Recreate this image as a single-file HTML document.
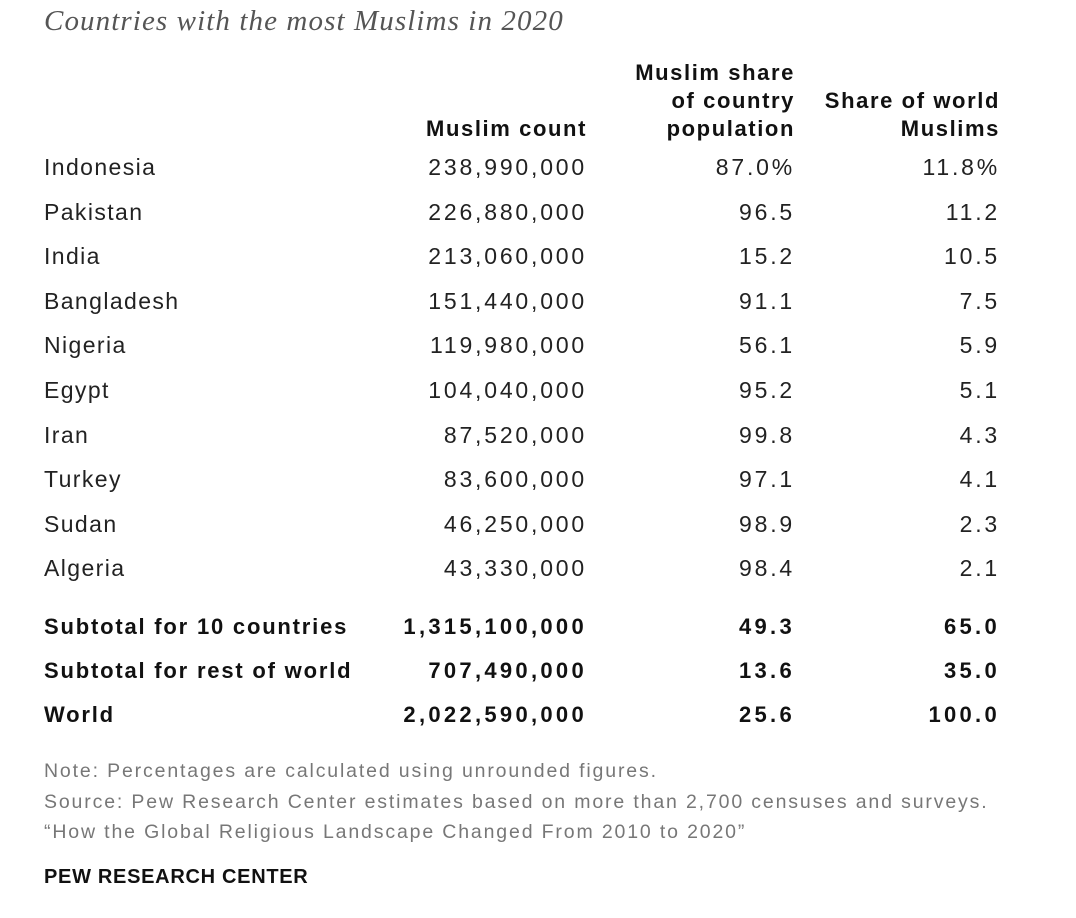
<!DOCTYPE html>
<html><head><style>
body{margin:0;width:1076px;height:918px;background:#fff;position:relative;overflow:hidden;font-family:"Liberation Sans",sans-serif;color:#222;}
.a{position:absolute;white-space:nowrap;line-height:30px;}
.t{left:44px;top:6px;font-family:"Liberation Serif",serif;font-style:italic;font-size:29px;letter-spacing:1.1px;color:#555;}
.h{font-weight:bold;font-size:22px;line-height:28px;text-align:right;color:#111;letter-spacing:1.6px;}
.r{font-size:23px;letter-spacing:1.4px;}
.r.num{letter-spacing:2.8px;}
.b{font-weight:bold;font-size:22px;letter-spacing:1.8px;color:#111;}
.b.num{letter-spacing:3.3px;}
.n{font-size:19.5px;color:#777;letter-spacing:1.85px;line-height:26px;}
.c1{left:44px}
.c2{right:489px;text-align:right}
.c3{right:281px;text-align:right}
.c4{right:76px;text-align:right}
</style></head><body>
<div class="a t">Countries with the most Muslims in 2020</div>
<div class="a h c2" style="top:115px">Muslim count</div>
<div class="a h c3" style="top:59px">Muslim share<br>of country<br>population</div>
<div class="a h c4" style="top:87px">Share of world<br>Muslims</div>
<div id="rows"></div>
<script>
const d=[["Indonesia","238,990,000","87.0%","11.8%"],["Pakistan","226,880,000","96.5","11.2"],["India","213,060,000","15.2","10.5"],["Bangladesh","151,440,000","91.1","7.5"],["Nigeria","119,980,000","56.1","5.9"],["Egypt","104,040,000","95.2","5.1"],["Iran","87,520,000","99.8","4.3"],["Turkey","83,600,000","97.1","4.1"],["Sudan","46,250,000","98.9","2.3"],["Algeria","43,330,000","98.4","2.1"]];
const s=[["Subtotal for 10 countries","1,315,100,000","49.3","65.0"],["Subtotal for rest of world","707,490,000","13.6","35.0"],["World","2,022,590,000","25.6","100.0"]];
let h="";
d.forEach((r,i)=>{const y=167+i*44.6-15;r.forEach((v,j)=>{h+=`<div class="a r c${j+1}${j?' num':''}" style="top:${y}px">${v}</div>`})});
s.forEach((r,i)=>{const y=627+i*44-15;r.forEach((v,j)=>{h+=`<div class="a b c${j+1}${j?' num':''}" style="top:${y}px">${v}</div>`})});
document.getElementById("rows").innerHTML=h;
</script>
<div class="a n" style="left:44px;top:758px">Note: Percentages are calculated using unrounded figures.</div>
<div class="a n" style="left:44px;top:789px">Source: Pew Research Center estimates based on more than 2,700 censuses and surveys.</div>
<div class="a n" style="left:44px;top:819px">“How the Global Religious Landscape Changed From 2010 to 2020”</div>
<div class="a" style="left:44px;top:863px;font-weight:bold;font-size:20px;letter-spacing:0.7px;color:#111;line-height:28px">PEW RESEARCH CENTER</div>
</body></html>
